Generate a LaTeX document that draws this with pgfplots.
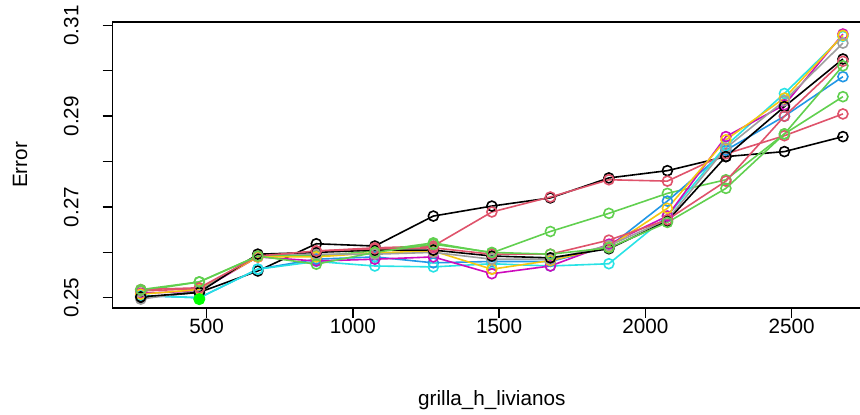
\documentclass[border=0pt]{standalone}
\usepackage{pgfplots}
\pgfplotsset{compat=1.18}
\usepackage{fontspec}
\setmainfont{Liberation Sans}
\definecolor{rA}{HTML}{000000}
\definecolor{rB}{HTML}{DF536B}
\definecolor{rC}{HTML}{61D04F}
\definecolor{rD}{HTML}{2297E6}
\definecolor{rE}{HTML}{28E2E5}
\definecolor{rF}{HTML}{CD0BBC}
\definecolor{rG}{HTML}{F5C710}
\definecolor{rH}{HTML}{9E9E9E}
\definecolor{rbest}{HTML}{00FF00}
\newcommand{\rfont}{\fontsize{10.35}{12}\selectfont}
\begin{document}
\begin{tikzpicture}
\begin{axis}[
  at={(0,0)}, anchor=south west,
  scale only axis, width=379.15pt, height=143pt,
  xmin=179, xmax=2771, ymin=0.24775, ymax=0.31075,
  xtick={500,1000,1500,2000,2500},
  ytick={0.25,0.26,0.27,0.28,0.29,0.30,0.31},
  yticklabels={0.25,,0.27,,0.29,,0.31},
  xtick pos=bottom, ytick pos=left,
  xtick align=outside, ytick align=outside,
  tickwidth=5pt,
  every tick/.style={black, line width=0.7pt},
  axis line style={line width=0.6pt},
  /pgf/number format/assume math mode=true,
  /pgf/number format/1000 sep={},
  ticklabel style={font=\rfont},
  xticklabel style={anchor=north, yshift=3pt},
  yticklabel style={rotate=90, anchor=south},
  yticklabel shift=8.5pt,
  xlabel={grilla\_h\_livianos}, ylabel={Error},
  label style={font=\rfont},
  xlabel style={at={(axis description cs:0.5,-0.3217)}, anchor=center},
  ylabel style={at={(axis description cs:-0.1222,0.5)}, anchor=center},
  clip=false,
  every axis plot/.append style={line width=0.8pt, mark=o, mark size=2.5pt, mark options={line width=0.8pt}},
]
% S1 black
\addplot[color=rA] coordinates {(275,0.2500)(475,0.2512)(675,0.2559)(875,0.2619)(1075,0.2614)(1275,0.2680)(1475,0.2702)(1675,0.2720)(1875,0.2764)(2075,0.2780)(2275,0.2811)(2475,0.2822)(2675,0.2855)};
% S2 red
\addplot[color=rB] coordinates {(275,0.2515)(475,0.2520)(675,0.2590)(875,0.2603)(1075,0.2610)(1275,0.2614)(1475,0.2689)(1675,0.2722)(1875,0.2760)(2075,0.2757)(2275,0.2817)(2475,0.2857)(2675,0.2905)};
% S3 green
\addplot[color=rC] coordinates {(275,0.2515)(475,0.2535)(675,0.2592)(875,0.2592)(1075,0.2603)(1275,0.2621)(1475,0.2599)(1675,0.2646)(1875,0.2686)(2075,0.2730)(2275,0.2760)(2475,0.2861)(2675,0.2943)};
% S4 blue
\addplot[color=rD] coordinates {(275,0.2505)(475,0.2500)(675,0.2563)(875,0.2585)(1075,0.2590)(1275,0.2577)(1475,0.2580)(1675,0.2580)(1875,0.2612)(2075,0.2713)(2275,0.2825)(2475,0.2900)(2675,0.2987)};
% S5 cyan
\addplot[color=rE] coordinates {(275,0.2505)(475,0.2500)(675,0.2563)(875,0.2580)(1075,0.2570)(1275,0.2568)(1475,0.2575)(1675,0.2570)(1875,0.2575)(2075,0.2680)(2275,0.2835)(2475,0.2950)(2675,0.3076)};
% S6 magenta
\addplot[color=rF] coordinates {(275,0.2510)(475,0.2515)(675,0.2590)(875,0.2581)(1075,0.2585)(1275,0.2590)(1475,0.2553)(1675,0.2570)(1875,0.2618)(2075,0.2680)(2275,0.2855)(2475,0.2925)(2675,0.3081)};
% S7 yellow
\addplot[color=rG] coordinates {(275,0.2508)(475,0.2518)(675,0.2590)(875,0.2590)(1075,0.2599)(1275,0.2603)(1475,0.2563)(1675,0.2582)(1875,0.2612)(2075,0.2697)(2275,0.2848)(2475,0.2940)(2675,0.3078)};
% S8 gray
\addplot[color=rH] coordinates {(275,0.2497)(475,0.2515)(675,0.2596)(875,0.2596)(1075,0.2596)(1275,0.2600)(1475,0.2585)(1675,0.2585)(1875,0.2615)(2075,0.2672)(2275,0.2830)(2475,0.2934)(2675,0.3061)};
% S9 black
\addplot[color=rA] coordinates {(275,0.2502)(475,0.2512)(675,0.2596)(875,0.2600)(1075,0.2605)(1275,0.2605)(1475,0.2592)(1675,0.2588)(1875,0.2608)(2075,0.2669)(2275,0.2811)(2475,0.2921)(2675,0.3026)};
% S10 red
\addplot[color=rB] coordinates {(275,0.2518)(475,0.2522)(675,0.2592)(875,0.2603)(1075,0.2608)(1275,0.2610)(1475,0.2596)(1675,0.2596)(1875,0.2627)(2075,0.2672)(2275,0.2757)(2475,0.2900)(2675,0.3021)};
% S11 green
\addplot[color=rC] coordinates {(275,0.2518)(475,0.2535)(675,0.2592)(875,0.2574)(1075,0.2600)(1275,0.2618)(1475,0.2600)(1675,0.2596)(1875,0.2610)(2075,0.2666)(2275,0.2741)(2475,0.2861)(2675,0.3011)};
% best
\addplot[only marks, mark=*, mark size=2.6pt, color=rbest, mark options={draw=rbest, fill=rbest}] coordinates {(475,0.2497)};
\end{axis}
\pgfresetboundingbox
\useasboundingbox (-56.35pt,-53.5pt) rectangle (373.65pt,154pt);
\end{tikzpicture}
\end{document}
